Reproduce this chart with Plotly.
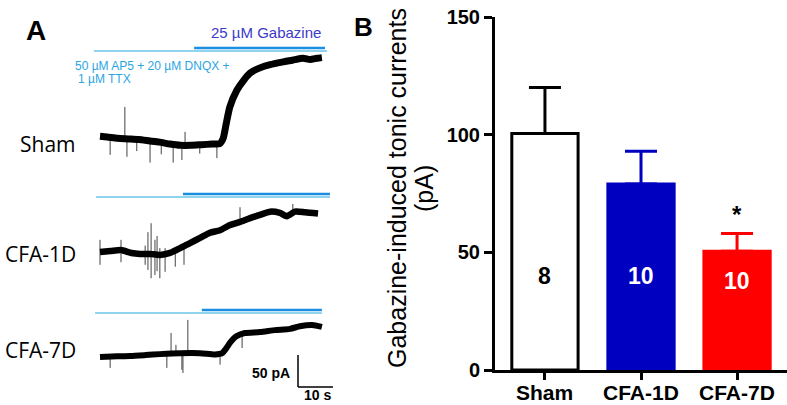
import plotly.graph_objects as go

W, H = 787, 405

# ---------------- Panel B data ----------------
groups = ["Sham", "CFA-1D", "CFA-7D"]
means = [100.5, 79, 50.5]
sems = [19.5, 14, 7.5]
n_cells = ["8", "10", "10"]
n_label_y = [40, 40, 38]
bar_colors = ["white", "#0000c0", "#ff0000"]
edge_colors = ["black", "#0000c0", "#ff0000"]
n_label_colors = ["black", "white", "white"]
y_ticks = [0, 50, 100, 150]
sig_group = "CFA-7D"
sig_y = 66

# ---------------- Panel A data (time s, current pA) ----------------
sham_t = [0, 2, 5, 8, 11, 14, 17, 20, 23, 26, 29, 32, 34.3, 35.2, 36, 37.1, 39.1, 41.1,
          42.9, 45.7, 48.6, 52, 55, 58, 60, 62, 63.4]
sham_i = [1, 0, -2, -3, -4, -6, -8, -11, -13, -13, -12, -11, -10, -2, 19, 47, 73, 89,
          100, 108, 113, 117, 120, 123, 121, 123, 124]
sham_spk_t = [7.1, 24.3, 2.9, 7.7, 14.3, 20.9, 23.4, 33.4, 10.5, 17.5, 28.5]
sham_spk_from = [-3, -12, 0, -3, -6, -11, -13, -11, -4, -8, -12]
sham_spk_to = [47, 8, -28, -31, -40, -40, -36, -33, -22, -27, -26]

cfa1_t = [0, 3, 6, 9, 11.4, 14.3, 17.1, 20, 22.9, 25.7, 28.6, 31.4, 34.3, 37.1, 40,
          42.9, 45.7, 48.6, 51.4, 53.4, 55.7, 58.6, 62.3]
cfa1_i = [0, 1.5, 3, -1.5, -3, -3, -4.5, -1.5, 6, 14, 22, 30, 34, 42, 47, 53, 58, 63,
          61, 56, 63, 62, 60]
cfa1_spk_t = [0, 6, 12.9, 13.7, 14.6, 15.7, 16.3, 17.1, 18.6, 21.5, 24, 40, 55.1]
cfa1_spk_from = [-20, -16, -20, -28, -41, -36, -30, -41, -31, -2, 4, 44, 66]
cfa1_spk_to = [19, 19, 10, 31, 45, 19, 25, 6, 6, -23, -20, 70, 75]

cfa7_t = [0, 5, 8.6, 13, 17.1, 22.9, 28.6, 32.9, 34.9, 36, 37.1, 38.6, 40, 41.4, 45.7,
          50, 54.3, 57.1, 60.6, 63.4]
cfa7_i = [0, 1, 1.5, 3, 4.5, 6, 6, 4, 6, 13, 22, 31, 35, 37.5, 39, 42, 44, 48, 50, 47]
cfa7_spk_t = [20.3, 25.1, 21.7, 2.9, 19.1, 23.4, 23.7, 34.3, 40.6]
cfa7_spk_from = [3, 5, 5, 0, 4, 6, 6, 5, 37]
cfa7_spk_to = [37.5, 58, 19, -17, -17, -20, -25, -12, 14]

row_names = ["Sham", "CFA-1D", "CFA-7D"]
# drug application periods (s): perfusion (AP5+DNQX+TTX) and gabazine
perf_start = [-1.7, -1.1, -1.4]
perf_end = [64.9, 65.7, 63.4]
gbz_start = [26.9, 23.7, 29.1]
gbz_end = [64.3, 65.7, 63.4]
SCALE_PA = 50
SCALE_S = 10

# ---------------- layout constants (pixels) ----------------
PX_PER_S = 3.5
PX_PER_PA = 0.64
T0_PX = 100
row_base_px = [137, 252, 357]
perf_y_px = [51, 197, 313]
gbz_y_px = [48, 194, 310]
label_y_px = [144, 254, 350]


def px(x):
    return x / W


def py(y):
    return 1 - y / H


fig = go.Figure()

# ---- Panel B bars ----
for g, m, s, fc, ec in zip(groups, means, sems, bar_colors, edge_colors):
    fig.add_trace(go.Bar(
        x=[g], y=[m], width=0.69, xaxis="x", yaxis="y",
        marker=dict(color=fc, line=dict(color=ec, width=3)),
        error_y=dict(type="data", array=[s], arrayminus=[0], symmetric=False,
                     color=ec, thickness=3, width=16),
        showlegend=False, hoverinfo="skip"))

# ---- Panel A traces ----
yaxes = ["y2", "y3", "y4"]
traces = [(sham_t, sham_i, sham_spk_t, sham_spk_from, sham_spk_to),
          (cfa1_t, cfa1_i, cfa1_spk_t, cfa1_spk_from, cfa1_spk_to),
          (cfa7_t, cfa7_i, cfa7_spk_t, cfa7_spk_from, cfa7_spk_to)]
widths = [7, 6.5, 6]
for (tt, ii, st, sf, so), ya, lw in zip(traces, yaxes, widths):
    sx, sy = [], []
    for a, b, c in zip(st, sf, so):
        sx += [a, a, None]
        sy += [b, c, None]
    fig.add_trace(go.Scatter(x=sx, y=sy, mode="lines", xaxis="x2", yaxis=ya,
                             line=dict(color="#444444", width=1), showlegend=False,
                             hoverinfo="skip"))
    fig.add_trace(go.Scatter(x=tt, y=ii, mode="lines", xaxis="x2", yaxis=ya,
                             line=dict(color="black", width=lw, shape="spline",
                                       smoothing=0.6),
                             showlegend=False, hoverinfo="skip"))

shapes = []
for k in range(3):
    shapes.append(dict(type="line", xref="x2", yref="paper",
                       x0=perf_start[k], x1=perf_end[k],
                       y0=py(perf_y_px[k]), y1=py(perf_y_px[k]),
                       line=dict(color="#8fd3ef", width=2)))
    shapes.append(dict(type="line", xref="x2", yref="paper",
                       x0=gbz_start[k], x1=gbz_end[k],
                       y0=py(gbz_y_px[k]), y1=py(gbz_y_px[k]),
                       line=dict(color="#1a8ee0", width=2.5)))

# scale bar on the CFA-7D axes
sb_t0 = (298 - T0_PX) / PX_PER_S
sb_i0 = (row_base_px[2] - 387) / PX_PER_PA
shapes.append(dict(type="line", xref="x2", yref="y4", x0=sb_t0, x1=sb_t0,
                   y0=sb_i0, y1=sb_i0 + SCALE_PA, line=dict(color="black", width=1.5)))
shapes.append(dict(type="line", xref="x2", yref="y4", x0=sb_t0, x1=sb_t0 + SCALE_S,
                   y0=sb_i0, y1=sb_i0, line=dict(color="black", width=1.5)))

ann = []
FONT = "Liberation Sans, Arial, sans-serif"


def note(text, x, y, size, color="black", weight="normal", xanchor="center",
         family=FONT, angle=0):
    ann.append(dict(text=text, x=px(x), y=py(y), xref="paper", yref="paper",
                    xanchor=xanchor, yanchor="middle", showarrow=False, textangle=angle,
                    font=dict(family=family, size=size, color=color, weight=weight)))


note("A", 36, 30, 28, weight="bold")
note("B", 363, 27, 26, weight="bold")
note("25 µM Gabazine", 323, 32, 15, color="#3a3acc", xanchor="right")
note("50 µM AP5 + 20 µM DNQX +", 73, 66, 12, color="#2aa5e2", xanchor="left")
note("1 µM TTX", 76, 79, 12, color="#2aa5e2", xanchor="left")
for name, ly in zip(row_names, label_y_px):
    note(name, 78, ly, 21, xanchor="right", family="Open Sans, Noto Sans, sans-serif")
note("50 pA", 292, 373, 14, weight="bold", xanchor="right")
note("10 s", 317, 395, 14, weight="bold")
note("Gabazine-induced tonic currents", 397, 188, 25, angle=-90)
note("(pA)", 424, 188, 25, angle=-90)

# category labels under the bar axis
for g in groups:
    ann.append(dict(text=g, x=g, y=py(392), xref="x", yref="paper", showarrow=False,
                    xanchor="center", yanchor="middle",
                    font=dict(family=FONT, size=21, color="black", weight="bold")))

for g, n, ny, c in zip(groups, n_cells, n_label_y, n_label_colors):
    ann.append(dict(text=n, x=g, y=ny, xref="x", yref="y", showarrow=False,
                    xanchor="center", yanchor="middle",
                    font=dict(family=FONT, size=23, color=c, weight="bold")))
ann.append(dict(text="*", x=sig_group, y=sig_y, xref="x", yref="y", showarrow=False,
                xanchor="center", yanchor="middle",
                font=dict(family=FONT, size=24, color="black", weight="bold")))

left_range = [(0 - T0_PX) / PX_PER_S, (340 - T0_PX) / PX_PER_S]
yr = [[(b - H) / PX_PER_PA, b / PX_PER_PA] for b in row_base_px]

fig.update_layout(
    width=W, height=H, autosize=False,
    margin=dict(l=0, r=0, t=0, b=0, pad=0, autoexpand=False),
    paper_bgcolor="white", plot_bgcolor="white",
    showlegend=False, barmode="overlay",
    xaxis=dict(domain=[495 / W, 1], range=[-0.52, 2.52], type="category",
               categoryorder="array", categoryarray=groups,
               showline=True, linewidth=3, linecolor="black",
               ticks="outside", ticklen=7, tickwidth=3, tickcolor="black",
               showticklabels=False,
               showgrid=False, zeroline=False, anchor="y", fixedrange=True,
               automargin=False),
    yaxis=dict(domain=[py(370), py(17)], range=[0, 150], tickvals=y_ticks,
               showline=True, linewidth=3, linecolor="black",
               ticks="outside", ticklen=8, tickwidth=3, tickcolor="black",
               tickfont=dict(family=FONT, size=20, color="black", weight="bold"),
               showgrid=False, zeroline=False, anchor="x", fixedrange=True,
               automargin=False),
    xaxis2=dict(domain=[0, 340 / W], range=left_range, visible=False, anchor="y2"),
    yaxis2=dict(domain=[0, 1], range=yr[0], visible=False, anchor="x2"),
    yaxis3=dict(range=yr[1], visible=False, anchor="x2", overlaying="y2"),
    yaxis4=dict(range=yr[2], visible=False, anchor="x2", overlaying="y2"),
    shapes=shapes, annotations=ann,
)

fig.write_html("out.html", config={"displayModeBar": False},
               post_script="document.body.style.margin='0';"
                           "document.body.style.overflow='hidden';")
